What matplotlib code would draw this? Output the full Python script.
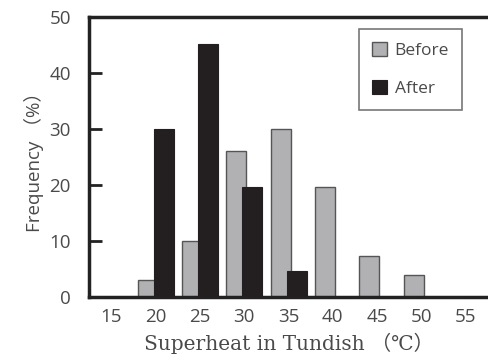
import matplotlib
matplotlib.use("Agg")
import matplotlib.pyplot as plt
import numpy as np

categories = ["15", "20", "25", "30", "35", "40", "45", "50", "55"]
before = [0, 3, 10, 26, 30, 19.7, 7.3, 3.9, 0]
after = [0, 30, 45.2, 19.7, 4.7, 0, 0, 0, 0]

fig = plt.figure(figsize=(4.88, 3.58), dpi=100)
ax = fig.add_axes([0.182, 0.170, 0.818, 0.7825])

x = np.arange(len(categories))
w = 0.45
ax.bar(x - 0.175, before, w, color="#b1b1b4", edgecolor="#555555", linewidth=1.0,
       label="Before", zorder=2)
ax.bar(x + 0.185, after, w, color="#231f20", edgecolor="#231f20", linewidth=0.8,
       label="After", zorder=3)

ax.set_xlim(-0.5, len(categories) - 0.5)
ax.set_ylim(0, 50)
ax.set_yticks([0, 10, 20, 30, 40, 50])
ax.set_xticks(x)
ax.set_xticklabels(categories)

for lab in ax.get_xticklabels() + ax.get_yticklabels():
    lab.set_fontfamily("Open Sans")
    lab.set_fontsize(13.5)
    lab.set_color("#4a4a4a")

ax.tick_params(axis="y", direction="in", length=9, width=2, color="#222222", pad=13)
ax.tick_params(axis="x", length=0, pad=8)

for s in ["left", "bottom", "top"]:
    ax.spines[s].set_linewidth(2.5)
    ax.spines[s].set_color("#222222")
ax.spines["right"].set_visible(False)

ax.set_ylabel("Frequency （%）", family=["Open Sans", "Noto Sans CJK JP"], fontsize=13.5,
              color="#4a4a4a", labelpad=4)
ax.set_xlabel("Superheat in Tundish （℃）", family=["DejaVu Serif", "Noto Sans CJK JP"],
              fontsize=14.5, color="#4a4a4a", labelpad=5)

leg = ax.legend(loc="upper left", bbox_to_anchor=(0.677, 0.957), frameon=True,
                fancybox=False, edgecolor="#555555", handlelength=0.85, handleheight=0.85,
                handletextpad=0.45, labelspacing=1.2, borderpad=0.75, borderaxespad=0,
                prop={"family": "Open Sans", "size": 12.5})
leg.get_frame().set_linewidth(1.2)
for t in leg.get_texts():
    t.set_color("#4a4a4a")

fig.savefig("out.png", dpi=100)
